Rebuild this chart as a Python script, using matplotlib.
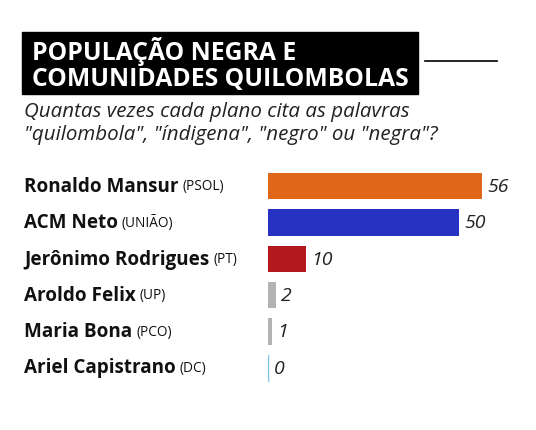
import matplotlib
matplotlib.use("Agg")
import matplotlib.pyplot as plt
from matplotlib.patches import Rectangle

names = ["Ronaldo Mansur", "ACM Neto", "Jerônimo Rodrigues", "Aroldo Felix", "Maria Bona", "Ariel Capistrano"]
parties = ["(PSOL)", "(UNIÃO)", "(PT)", "(UP)", "(PCO)", "(DC)"]
values = [56, 50, 10, 2, 1, 0]
colors = ["#E0661A", "#2731C2", "#B3181F", "#B3B3B3", "#B3B3B3", "#7FC3E8"]

W, H = 536, 431
fig = plt.figure(figsize=(W/100, H/100), dpi=100)
fig.patch.set_facecolor("white")
FONT = "Open Sans"

def fx(x): return x / W
def fy(y): return 1 - y / H

fig.patches.append(Rectangle((fx(22), fy(95)), fx(418) - fx(22), fy(33) - fy(95),
                             transform=fig.transFigure, color="black", zorder=0))
fig.canvas.draw()
r = fig.canvas.get_renderer()

def fit(t, target):
    bb = t.get_window_extent(r)
    t.set_fontsize(t.get_fontsize() * target / bb.width)

t1 = fig.text(fx(32), fy(51), "POPULAÇÃO NEGRA E", color="white", fontsize=17,
              fontweight="bold", family=FONT, va="center")
t2 = fig.text(fx(32), fy(79), "COMUNIDADES QUILOMBOLAS", color="white", fontsize=17,
              fontweight="bold", family=FONT, va="center")
fit(t2, 376); t1.set_fontsize(t2.get_fontsize())
fig.add_artist(plt.Line2D([fx(425), fx(497)], [fy(62), fy(62)], color="black", lw=1.2))
s1 = fig.text(fx(24), fy(112), "Quantas vezes cada plano cita as palavras", fontsize=12,
              style="italic", family=FONT, va="center", color="#222222")
s2 = fig.text(fx(24), fy(135), "\"quilombola\", \"índigena\", \"negro\" ou \"negra\"?", fontsize=12,
              style="italic", family=FONT, va="center", color="#222222")
fit(s1, 384); s2.set_fontsize(s1.get_fontsize())

scale = 214 / 56
ax = fig.add_axes([fx(268), fy(387), fx(268), (387 - 169) / H])
ax.set_xlim(0, 268 / scale)
ax.set_ylim(5.5, -0.5)
ax.axis("off")
ys = list(range(len(values)))
ax.barh(ys, values, height=0.72, color=colors)
for y, v, c in zip(ys, values, colors):
    if v == 0:
        ax.plot([0, 0], [y - 0.36, y + 0.36], color=c, lw=1)
    ax.text(v + 5 / scale if v else 6 / scale, y, str(v), style="italic", fontsize=14,
            family=FONT, va="center", ha="left", color="#222222")

fig.canvas.draw()
nfs = None
for i, (n, p) in enumerate(zip(names, parties)):
    ypix = 187 + i * 36.3
    t = fig.text(fx(24), fy(ypix), n, fontsize=13, fontweight="bold", family=FONT,
                 va="center", color="#111111")
    if i == 0:
        fit(t, 154); nfs = t.get_fontsize()
    else:
        t.set_fontsize(nfs)
    bb = t.get_window_extent(r)
    fig.text(bb.x1 / W + fx(4), fy(ypix), p, fontsize=nfs * 0.72, family=FONT,
             va="center", color="#111111")

fig.savefig("out.png", dpi=100, facecolor="white")
